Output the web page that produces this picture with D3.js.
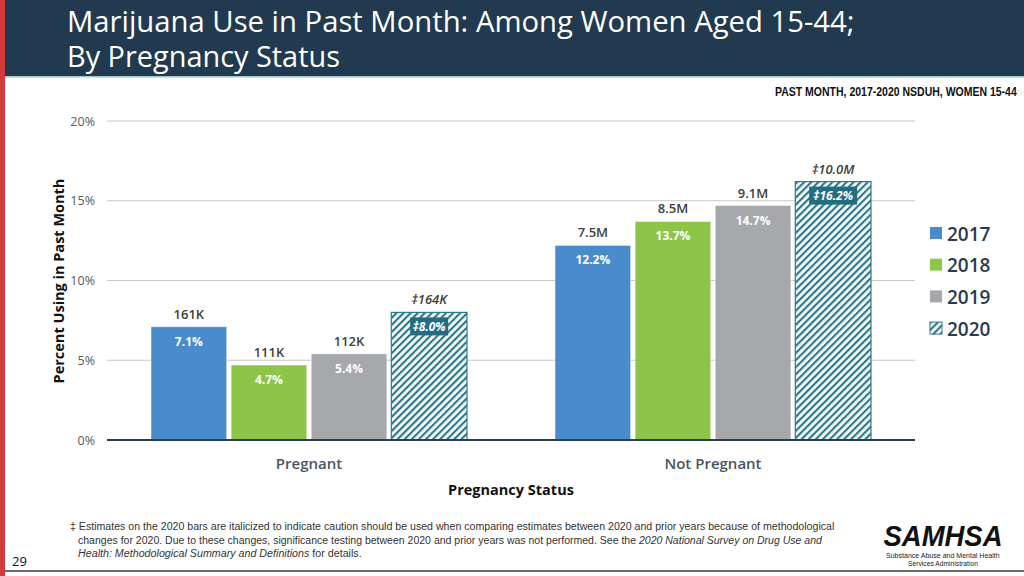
<!DOCTYPE html>
<html><head><meta charset="utf-8">
<script src="https://cdn.jsdelivr.net/npm/d3@7"></script>
<style>body{margin:0;background:#fff;}svg{display:block;}</style>
</head><body>
<svg id="c" width="1024" height="576"></svg>
<script>
const categories = ["Pregnant", "Not Pregnant"];
const years = ["2017", "2018", "2019", "2020"];
const pct2017 = [7.1, 12.2];
const pct2018 = [4.7, 13.7];
const pct2019 = [5.4, 14.7];
const pct2020 = [8.0, 16.2];
const count2017 = ["161K", "7.5M"];
const count2018 = ["111K", "8.5M"];
const count2019 = ["112K", "9.1M"];
const count2020 = ["‡164K", "‡10.0M"];
const yTicks = [0, 5, 10, 15, 20];

const series = [
  {year: "2017", vals: pct2017, counts: count2017},
  {year: "2018", vals: pct2018, counts: count2018},
  {year: "2019", vals: pct2019, counts: count2019},
  {year: "2020", vals: pct2020, counts: count2020}
];
const colors = {"2017": "#4a8bcb", "2018": "#8dc549", "2019": "#a6a8ab", "2020": "url(#hatch)"};
const font = "'Open Sans', 'Noto Sans', sans-serif";
const narrow = "'Liberation Sans', Arial, sans-serif";

const svg = d3.select("#c");
const defs = svg.append("defs");
const pat = defs.append("pattern").attr("id", "hatch").attr("patternUnits", "userSpaceOnUse")
  .attr("width", 5).attr("height", 5).attr("patternTransform", "rotate(45)");
pat.append("rect").attr("width", 5).attr("height", 5).attr("fill", "#ffffff");
pat.append("rect").attr("width", 2.2).attr("height", 5).attr("fill", "#2b7b8e");

// helper: place text (possibly with tspans) at x,y and squeeze horizontally to a target width
function fitText(parent, x, y, width, anchor, build, sy) {
  const g = parent.append("g");
  const t = g.append("text").attr("x", 0).attr("y", 0);
  build(t);
  const w = t.node().getComputedTextLength();
  const s = Math.min(1.5, width / w);
  let tx = x;
  if (anchor === "end") tx = x - width;
  if (anchor === "middle") tx = x - width / 2;
  g.attr("transform", `translate(${tx},${y}) scale(${s},${sy || 1})`);
  return t;
}

// header
svg.append("rect").attr("x", 0).attr("y", 0).attr("width", 1024).attr("height", 76).attr("fill", "#213a50");
svg.append("rect").attr("x", 0).attr("y", 76).attr("width", 1024).attr("height", 1.5).attr("fill", "#9fc9cf");
svg.append("rect").attr("x", 0).attr("y", 0).attr("width", 5).attr("height", 576).attr("fill", "#d23a3c");
svg.append("rect").attr("x", 5).attr("y", 570).attr("width", 1019).attr("height", 2).attr("fill", "#6b6b6b");

fitText(svg, 67, 32, 788, "start", t => t.attr("fill", "#fff").attr("font-family", font).attr("font-size", 26)
  .attr("font-weight", 500).text("Marijuana Use in Past Month: Among Women Aged 15-44;"), 1.1);
fitText(svg, 67, 67, 273, "start", t => t.attr("fill", "#fff").attr("font-family", font).attr("font-size", 26)
  .attr("font-weight", 500).text("By Pregnancy Status"), 1.1);

fitText(svg, 1017, 96, 242, "end", t => t.attr("fill", "#111").attr("font-family", narrow).attr("font-weight", "bold")
  .attr("font-size", 12).text("PAST MONTH, 2017-2020  NSDUH, WOMEN 15-44"));

// scales
const x0 = d3.scaleBand().domain(categories).range([107, 915]).paddingInner(0).paddingOuter(0);
const x1 = d3.scaleBand().domain(years).range([44, 360]).paddingInner(0.055);
const y = d3.scaleLinear().domain([0, 20]).range([440, 121]);

// grid
svg.append("g").selectAll("line").data(yTicks.filter(t => t > 0)).join("line")
  .attr("x1", 107).attr("x2", 915).attr("y1", d => y(d)).attr("y2", d => y(d))
  .attr("stroke", "#c8c8c8").attr("stroke-width", 1.2);

const yAxis = svg.append("g").attr("transform", "translate(107,0)")
  .call(d3.axisLeft(y).tickValues(yTicks).tickFormat(d => d + "%").tickSize(0).tickPadding(12));
yAxis.select(".domain").remove();
yAxis.selectAll("text").attr("font-family", font).attr("font-size", 12.5).attr("fill", "#595959");

// bars
categories.forEach((cat, ci) => {
  const gg = svg.append("g").attr("transform", `translate(${x0(cat)},0)`);
  series.forEach(s => {
    const v = s.vals[ci];
    const bx = x1(s.year), bw = x1.bandwidth();
    const is2020 = s.year === "2020";
    gg.append("rect").attr("x", bx).attr("y", y(v)).attr("width", bw).attr("height", y(0) - y(v))
      .attr("fill", colors[s.year])
      .attr("stroke", is2020 ? "#2b7b8e" : "#ffffff").attr("stroke-width", is2020 ? 1.2 : 0.8)
      .attr("stroke-opacity", is2020 ? 1 : 0.6);
    const cx = bx + bw / 2;
    gg.append("text").attr("x", cx).attr("y", y(v) - 8).attr("text-anchor", "middle")
      .attr("font-family", font).attr("font-size", 13).attr("font-weight", 600)
      .attr("font-style", is2020 ? "italic" : "normal").attr("fill", "#404040")
      .text(s.counts[ci]);
    const label = (is2020 ? "‡" : "") + v.toFixed(1) + "%";
    if (is2020) {
      const bwBox = ci === 0 ? 38 : 48;
      gg.append("rect").attr("x", cx - bwBox / 2).attr("y", y(v) + 5).attr("width", bwBox).attr("height", 18)
        .attr("fill", "#246d81");
      gg.append("text").attr("x", cx).attr("y", y(v) + 18.5).attr("text-anchor", "middle")
        .attr("font-family", font).attr("font-size", 12).attr("font-weight", "bold").attr("font-style", "italic")
        .attr("fill", "#fff").text(label);
    } else {
      gg.append("text").attr("x", cx).attr("y", y(v) + 19).attr("text-anchor", "middle")
        .attr("font-family", font).attr("font-size", 12).attr("font-weight", "bold")
        .attr("fill", "#fff").text(label);
    }
  });
});

// baseline
svg.append("line").attr("x1", 107).attr("x2", 915).attr("y1", y(0)).attr("y2", y(0))
  .attr("stroke", "#2e3e4e").attr("stroke-width", 2);

// x axis labels
const xAxis = svg.append("g").attr("transform", `translate(0,${y(0)})`)
  .call(d3.axisBottom(x0).tickSize(0).tickPadding(18));
xAxis.select(".domain").remove();
xAxis.selectAll("text").attr("font-family", font).attr("font-size", 15).attr("font-weight", 600).attr("fill", "#4a5560");

svg.append("text").attr("x", 511).attr("y", 495).attr("text-anchor", "middle")
  .attr("font-family", font).attr("font-size", 14.5).attr("font-weight", "bold").attr("fill", "#111")
  .text("Pregnancy Status");
svg.append("text").attr("transform", "translate(64,281) rotate(-90)").attr("text-anchor", "middle")
  .attr("font-family", font).attr("font-size", 14.5).attr("font-weight", "bold").attr("fill", "#111")
  .text("Percent Using in Past Month");

// legend
const leg = svg.append("g");
years.forEach((yr, i) => {
  const ly = 233 + i * 31.7;
  leg.append("rect").attr("x", 930).attr("y", ly - 6).attr("width", 12).attr("height", 12)
    .attr("fill", colors[yr]).attr("stroke", yr === "2020" ? "#2b7b8e" : "none").attr("stroke-width", 1);
  leg.append("text").attr("x", 947).attr("y", ly + 7.5).attr("font-family", font).attr("font-size", 19)
    .attr("font-weight", 600).attr("fill", "#2b3a4c").text(yr);
});

// footnote
fitText(svg, 70, 530, 765, "start", t => t.attr("font-family", narrow).attr("font-size", 11).attr("fill", "#333")
  .text("‡ Estimates on the 2020 bars are italicized to indicate caution should be used when comparing estimates between 2020 and prior years because of methodological"));
fitText(svg, 78, 544, 745, "start", t => {
  t.attr("font-family", narrow).attr("font-size", 11).attr("fill", "#333");
  t.append("tspan").text("changes for 2020. Due to these changes, significance testing between 2020 and prior years was not performed. See the ");
  t.append("tspan").attr("font-style", "italic").text("2020 National Survey on Drug Use and");
});
fitText(svg, 78, 557, 284, "start", t => {
  t.attr("font-family", narrow).attr("font-size", 11).attr("fill", "#333");
  t.append("tspan").attr("font-style", "italic").text("Health: Methodological Summary and Definitions");
  t.append("tspan").text(" for details.");
});

svg.append("text").attr("x", 12).attr("y", 566).attr("font-family", font).attr("font-size", 13).attr("fill", "#111").text("29");

// logo
fitText(svg, 943, 546, 119, "middle", t => t.attr("font-family", narrow).attr("font-weight", "bold").attr("font-style", "italic")
  .attr("font-size", 26).attr("fill", "#111").text("SAMHSA"), 1.12);
fitText(svg, 943, 558, 114, "middle", t => t.attr("font-family", narrow).attr("font-size", 6.5).attr("fill", "#222")
  .text("Substance Abuse and Mental Health"), 1.1);
fitText(svg, 943, 566, 70, "middle", t => t.attr("font-family", narrow).attr("font-size", 6.5).attr("fill", "#222")
  .text("Services Administration"), 1.1);
</script>
</body></html>
